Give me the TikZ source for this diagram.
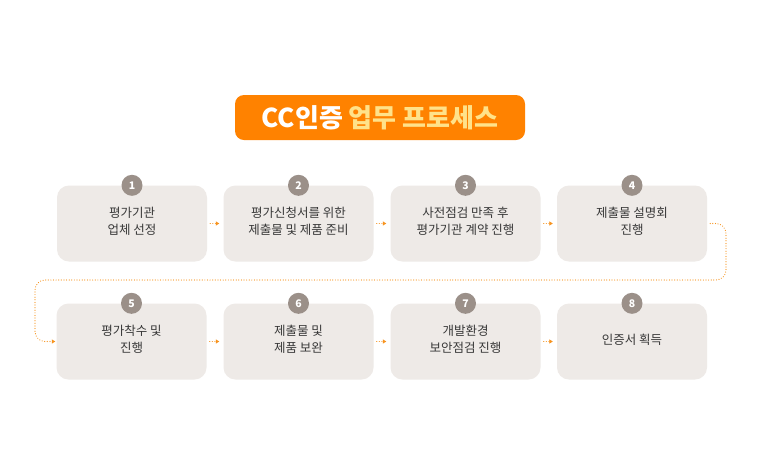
\documentclass[tikz,border=0pt]{standalone}
\usepackage{fontspec}
\setmainfont{Noto Sans CJK KR}
\usetikzlibrary{arrows.meta}
\definecolor{ttlorange}{HTML}{FF8200}
\definecolor{ttlyellow}{HTML}{FFE28A}
\definecolor{boxfill}{HTML}{EEEAE7}
\definecolor{numfill}{HTML}{9B9089}
\definecolor{txtcol}{HTML}{383838}
\definecolor{dotorange}{HTML}{F7931E}
\tikzset{
  stepbox/.style={rectangle, rounded corners=12pt, fill=boxfill, minimum width=150pt, minimum height=76pt, inner sep=0pt, align=center, text=txtcol, font=\fontsize{12.5}{18}\selectfont},
  steptext/.style={align=center, text=txtcol, font=\fontsize{12.5}{17.5}\selectfont, inner sep=0pt},
  numdot/.style={circle, fill=numfill, minimum size=21pt, inner sep=0pt, text=white, font=\bfseries\fontsize{10.5}{10.5}\selectfont},
  dotarrow/.style={draw=dotorange, line width=1.2pt, dash pattern=on 0.01pt off 2.6pt, line cap=round, -{Triangle[length=3.5pt,width=4pt,fill=dotorange,line cap=butt]}},
}
\begin{document}
\begin{tikzpicture}[x=1pt,y=-1pt]
\useasboundingbox (0,0) rectangle (760,475);
\fill[white] (0,0) rectangle (760,475);
\node[rectangle, rounded corners=9pt, fill=ttlorange, minimum width=290pt, minimum height=45pt, inner sep=0pt, font=\bfseries\fontsize{26}{26}\selectfont] (title) at (380,117.5) {\textcolor{white}{CC인증} \textcolor{ttlyellow}{업무 프로세스}};
% row 1
\node[stepbox] (b1) at (132,223.5) {};
\node[stepbox] (b2) at (298.5,223.5) {};
\node[stepbox] (b3) at (465.5,223.5) {};
\node[stepbox] (b4) at (632,223.5) {};
% row 2
\node[stepbox] (b5) at (131.5,341.5) {};
\node[stepbox] (b6) at (298.5,341.5) {};
\node[stepbox] (b7) at (465.5,341.5) {};
\node[stepbox] (b8) at (632,341.5) {};
% texts
\node[steptext] (t1) at ([yshift=2pt]b1.center) {평가기관\\업체 선정};
\node[steptext] (t2) at ([yshift=2pt]b2.center) {평가신청서를 위한\\제출물 및 제품 준비};
\node[steptext] (t3) at ([yshift=2pt]b3.center) {사전점검 만족 후\\평가기관 계약 진행};
\node[steptext] (t4) at ([yshift=2pt]b4.center) {제출물 설명회\\진행};
\node[steptext] (t5) at ([yshift=2pt]b5.center) {평가착수 및\\진행};
\node[steptext] (t6) at ([yshift=2pt]b6.center) {제출물 및\\제품 보완};
\node[steptext] (t7) at ([yshift=2pt]b7.center) {개발환경\\보안점검 진행};
\node[steptext] (t8) at ([yshift=2pt]b8.center) {인증서 획득};
% numbers
\foreach \i in {1,...,8} { \node[numdot] (n\i) at (b\i.north) {\i}; }
% connectors
\foreach \a/\b in {b1/b2,b2/b3,b3/b4,b5/b6,b6/b7,b7/b8} {
  \draw[dotarrow, shorten <=3pt, shorten >=4pt] (\a) -- (\b);
}
\coordinate (r1) at (726,280);
\coordinate (l1) at (35,280);
\draw[dotarrow, rounded corners=10pt, shorten <=3pt, shorten >=1pt] (b4.east) -| (r1) -- (l1) |- (b5.west);
\end{tikzpicture}
\end{document}
